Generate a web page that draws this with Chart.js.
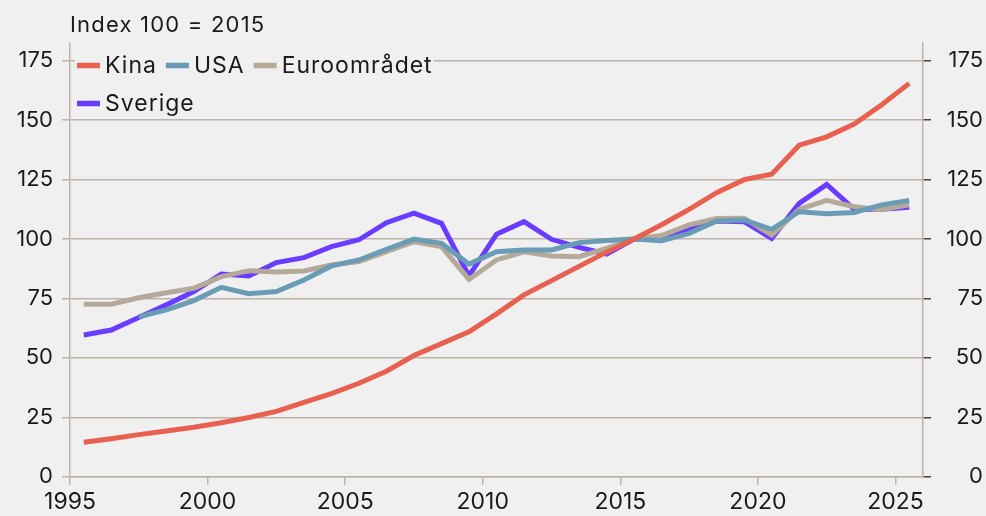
<!DOCTYPE html>
<html>
<head>
<meta charset="utf-8">
<script src="https://cdn.jsdelivr.net/npm/chart.js@4.4.1/dist/chart.umd.min.js"></script>
<style>
  html, body { margin: 0; padding: 0; background: #f0f0f0; }
  #wrap { width: 986px; height: 516px; position: relative; }
</style>
</head>
<body>
<div id="wrap"><canvas id="c" width="986" height="516"></canvas></div>
<script>
// ---- Data (annual, plotted mid-year) ----
const years = [1995,1996,1997,1998,1999,2000,2001,2002,2003,2004,2005,2006,2007,2008,2009,2010,2011,2012,2013,2014,2015,2016,2017,2018,2019,2020,2021,2022,2023,2024,2025];
const kina = [14.5,16.0,17.7,19.2,20.8,22.7,24.9,27.5,31.3,35.0,39.3,44.4,51.0,56.0,61.0,68.5,76.5,82.5,88.5,94.5,100,106,112.5,119.5,125,127.3,139.5,143,148.4,156.5,165.5];
const usa = [null,null,67.3,70.2,74.1,79.7,77.0,77.9,82.8,88.7,91.2,95.7,100.0,98.2,89.5,94.7,95.4,95.4,98.5,99.4,100,99.3,102.4,107.6,108,104.1,111.5,110.6,111.2,114.4,116.2];
const euro = [72.6,72.6,75.3,77.4,79.3,84.2,86.7,86.1,86.6,89.1,90.5,94.7,98.9,96.8,83.0,91.2,94.6,92.9,92.6,96.1,100,101.5,106,108.6,108.8,101.7,112.5,116.3,113.6,112.3,114.4];
const sverige = [59.6,61.7,67.0,72.3,77.9,85.3,84.5,90.1,92.2,96.8,99.7,106.9,110.9,106.6,84.5,102.0,107.3,99.9,96.5,93.7,100,100.3,104,107.6,107.3,100.3,115,123,112.5,112.5,113.4];
const yTicks = [0,25,50,75,100,125,150,175];
const xTicks = [1995,2000,2005,2010,2015,2020,2025];
const seriesLabels = ['Kina','USA','Euroområdet','Sverige'];
const unitLabel = 'Index 100 = 2015';

const FONT = 'Inter, "DejaVu Sans", sans-serif';
const GRID = '#bdb3a6';
const TXT = '#1a1a1a';

function pts(arr) { return years.map((y, i) => ({ x: y + 0.5, y: arr[i] })); }

const colors = ['#e8604f', '#6b9cb6', '#b5aa9a', '#6a3cff'];
const dataArrs = [kina, usa, euro, sverige];

const bgPlugin = {
  id: 'bg',
  beforeDraw(chart) {
    const ctx = chart.ctx;
    ctx.save();
    ctx.fillStyle = '#f0f0f0';
    ctx.fillRect(0, 0, chart.width, chart.height);
    ctx.restore();
  }
};

const overlayPlugin = {
  id: 'overlay',
  afterDraw(chart) {
    const ctx = chart.ctx;
    const ca = chart.chartArea;
    ctx.save();
    // unit label
    ctx.font = '400 22px ' + FONT;
    ctx.letterSpacing = '1.2px';
    ctx.fillStyle = TXT;
    ctx.textBaseline = 'alphabetic';
    ctx.textAlign = 'left';
    ctx.fillText(unitLabel, ca.left, 32);
    // legend
    ctx.font = '400 23px ' + FONT;
    ctx.letterSpacing = '1px';
    const x0 = ca.left + 7, maxRight = 470;
    const rowH = 38, row1 = 65.5;
    const items = [];
    let x = x0, row = 0;
    chart.data.datasets.forEach(ds => {
      const w = 23 + 5 + ctx.measureText(ds.label).width;
      if (x + w > maxRight && x > x0) { row++; x = x0; }
      items.push({ ds, x, row, w });
      x += w + 9;
    });
    // background behind legend (covers gridlines under the first row)
    ctx.fillStyle = '#f0f0f0';
    const maxR = Math.max(...items.map(it => it.x + it.w));
    ctx.fillRect(x0 - 2, row1 - 18, maxR - x0 + 3, row * rowH + 32);
    items.forEach(it => {
      const cy = row1 + it.row * rowH;
      ctx.fillStyle = it.ds.borderColor;
      ctx.fillRect(it.x, cy - 2.75, 23, 5.5);
      ctx.fillStyle = TXT;
      ctx.textBaseline = 'middle';
      ctx.fillText(it.ds.label, it.x + 28, cy + 1);
    });
    ctx.restore();
  }
};

new Chart(document.getElementById('c'), {
  type: 'line',
  data: {
    datasets: seriesLabels.map((lab, i) => ({
      label: lab,
      data: pts(dataArrs[i]),
      borderColor: colors[i],
      backgroundColor: colors[i],
      borderWidth: 5,
      pointRadius: 0,
      tension: 0,
      spanGaps: false,
      yAxisID: 'y'
    }))
  },
  options: {
    responsive: false,
    animation: false,
    events: [],
    parsing: true,
    layout: { padding: { top: 43, left: 0, right: 3, bottom: 0 } },
    plugins: { legend: { display: false }, title: { display: false }, tooltip: { enabled: false } },
    scales: {
      x: {
        type: 'linear',
        min: 1995, max: 2026,
        afterBuildTicks(s) { s.ticks = xTicks.map(v => ({ value: v })); },
        ticks: { stepSize: 5, includeBounds: false, color: TXT, font: { family: FONT, size: 23 }, padding: 4, maxRotation: 0, autoSkip: false, callback: v => String(v) },
        grid: { drawOnChartArea: false, drawTicks: true, tickLength: 8, tickColor: GRID, lineWidth: 1.5 },
        border: { color: GRID, width: 1.5 },
        afterFit(s) { s.height = 39.3; s.paddingLeft = 0; s.paddingRight = 0; }
      },
      y: {
        position: 'left',
        min: 0, max: 182.5,
        afterBuildTicks(s) { s.ticks = yTicks.map(v => ({ value: v })); },
        ticks: { stepSize: 25, includeBounds: false, color: TXT, font: { family: FONT, size: 22 }, padding: 9 },
        grid: { color: GRID, lineWidth: 1.5, tickLength: 8, drawTicks: true },
        border: { color: GRID, width: 1.5 },
        afterFit(s) { s.width = 70; s.paddingTop = 0; s.paddingBottom = 0; }
      },
      y2: {
        position: 'right',
        min: 0, max: 182.5,
        afterBuildTicks(s) { s.ticks = yTicks.map(v => ({ value: v })); },
        ticks: { stepSize: 25, includeBounds: false, color: TXT, font: { family: FONT, size: 22 }, padding: 9, crossAlign: 'far' },
        grid: { drawOnChartArea: false, tickLength: 8, tickColor: '#444', lineWidth: 1.5 },
        border: { color: GRID, width: 1.5 },
        afterFit(s) { s.width = 60; s.paddingTop = 0; s.paddingBottom = 0; }
      }
    }
  },
  plugins: [bgPlugin, overlayPlugin]
});
</script>
</body>
</html>
